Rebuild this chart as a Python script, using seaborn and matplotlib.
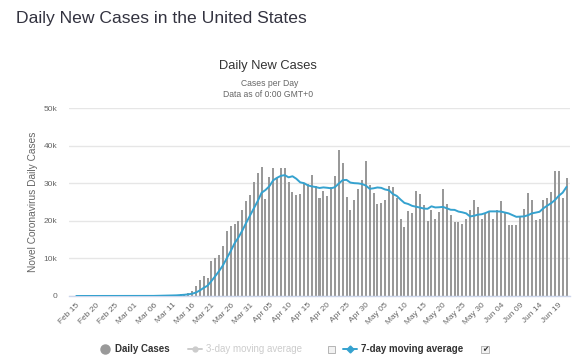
import matplotlib
matplotlib.use("Agg")
import matplotlib.pyplot as plt
from matplotlib.lines import Line2D
from matplotlib.patches import Rectangle
import numpy as np
import pandas as pd
import seaborn as sns

# Daily new cases, one value per day starting Feb 15
daily_cases = [
    0, 0, 0, 0, 0, 0, 1, 0, 0, 18, 0, 1, 0, 3, 8,
    8, 23, 20, 31, 68, 45, 140, 116, 65, 376, 322, 382, 520, 650, 800,
    1200, 2600, 4200, 5200, 4700, 9200, 10000, 10800, 13200, 17300,
    18600, 19200, 20000, 22900, 25200, 26800, 30300, 32800, 34400, 25800,
    31600, 34000, 31500, 34000, 34000, 30400, 27800, 26900, 27300, 30000,
    29800, 32200, 29200, 26000, 28000, 26600, 29000, 31900, 39000, 35500,
    26500, 23000, 25500, 28600, 30800, 36000, 29700, 27400, 24600, 24800,
    25500, 29400, 29000, 26000, 20500, 18400, 22700, 22100, 27900, 27300,
    24200, 20000, 23000, 20600, 22500, 28600, 24500, 21600, 19800, 19800,
    19200, 20600, 22800, 25700, 23700, 20600, 22100, 22300, 20600, 22800,
    25300, 22100, 18800, 19000, 19000, 21000, 23300, 27400, 25500, 20200,
    20600, 25500, 26000, 27800, 33400, 33400, 26000, 31400,
]

# 7-day moving average line
avg_7day = [
    0, 0, 0, 0, 0, 0, 0, 0, 0, 0, 0, 0, 0, 0, 1, 2, 5, 8, 12, 22,
    28, 47, 63, 70, 113, 150, 180, 250, 330, 445,
    610, 930, 1480, 2170, 2760, 3990, 5300, 6670, 8190, 10060,
    11970, 14040, 15590, 17430, 19490, 21430, 23340, 25310, 27500, 28230,
    29230, 30810, 31490, 32010, 32190, 31610, 31900, 31230, 30270, 30060,
    29460, 29200, 29030, 28770, 28930, 28830, 28690, 28990, 29960, 30860,
    30930, 30210, 30060, 30000, 29840, 29410, 28560, 28690, 28910, 28810,
    28370, 28170, 27170, 26670, 25690, 24800, 24500, 24010, 23800, 23560,
    23300, 23230, 23890, 23590, 23640, 23740, 23340, 22970, 22940, 22490,
    22290, 22010, 21190, 21360, 21660, 21770, 22100, 22540, 22540, 22540,
    22490, 22260, 22000, 21560, 21090, 21140, 21210, 21510, 22000, 22200,
    22430, 23360, 24070, 24710, 25570, 26700, 27530, 29070,
]

start_date = "2020-02-15"
y_ticks = [0, 10000, 20000, 30000, 40000, 50000]
y_tick_labels = ["0", "10k", "20k", "30k", "40k", "50k"]

sns.set_style("white")
plt.rcParams["font.family"] = ["Liberation Sans", "DejaVu Sans"]

W, H = 581, 362


def fx(x):
    return x / W


def fy(y):
    return 1 - y / H


dates = pd.date_range(start_date, periods=len(daily_cases))
df = pd.DataFrame({
    "date": dates.strftime("%b %d"),
    "cases": daily_cases,
    "avg": avg_7day,
    "idx": np.arange(len(daily_cases)),
})

fig = plt.figure(figsize=(W / 100, H / 100), dpi=100)
ax = fig.add_axes([fx(69), fy(296), fx(570) - fx(69), fy(108.3) - fy(296)])

line_color = "#35a2cf"
sns.barplot(data=df, x="date", y="cases", color="#999999", saturation=1,
            width=0.52, ax=ax, zorder=2, linewidth=0)
# crisp 2px bars like the original
for bar in ax.patches:
    bar.set_antialiased(False)
sns.lineplot(data=df, x="idx", y="avg", color=line_color, lw=1.4, ax=ax, zorder=3)

ax.set_xlim(-1.9, 127.9)
ax.set_ylim(0, 50000)
ax.set_yticks(y_ticks)
ax.set_yticklabels(y_tick_labels)
ax.yaxis.grid(True, color="#e6e6e6", lw=1)
ax.xaxis.grid(False)
ax.set_axisbelow(True)

tick_pos = list(range(0, len(daily_cases), 5))
ax.set_xticks(tick_pos)
ax.set_xticklabels([df["date"][i] for i in tick_pos], rotation=45, ha="right",
                   rotation_mode="anchor", fontsize=6, color="#666666")
ax.tick_params(axis="x", length=0, pad=4)
ax.tick_params(axis="y", length=0, pad=8.5, labelsize=6, labelcolor="#666666")
ax.set_xlabel("")
ax.set_ylabel("")

for side in ["top", "right", "left"]:
    ax.spines[side].set_visible(False)
ax.spines["bottom"].set_color("#ccd6eb")
ax.spines["bottom"].set_linewidth(1)

# titles
fig.text(fx(16), fy(22.7), "Daily New Cases in the United States", fontsize=12.6,
         color="#333340", va="baseline", ha="left")
fig.text(fx(268), fy(69), "Daily New Cases", fontsize=9.3, color="#333333",
         va="baseline", ha="center")
fig.text(fx(270), fy(85.5), "Cases per Day", fontsize=6.2, color="#666666",
         va="baseline", ha="center")
fig.text(fx(268), fy(96.7), "Data as of 0:00 GMT+0", fontsize=6.2, color="#666666",
         va="baseline", ha="center")
fig.text(fx(33), fy(202), "Novel Coronavirus Daily Cases", fontsize=7.3,
         color="#666666", rotation=90, ha="center", va="center")

# legend
ly = 349
fig.add_artist(Line2D([fx(105)], [fy(ly)], marker="o", markersize=6.5,
                      color="#999999", transform=fig.transFigure))
fig.text(fx(115), fy(ly), "Daily Cases", fontsize=7, fontweight="bold",
         color="#333333", va="center", ha="left")

fig.add_artist(Line2D([fx(188), fx(202)], [fy(ly), fy(ly)], color="#cccccc", lw=1.4,
                      transform=fig.transFigure))
fig.add_artist(Line2D([fx(195)], [fy(ly)], marker="o", markersize=3.5,
                      color="#cccccc", transform=fig.transFigure))
fig.text(fx(206), fy(ly), "3-day moving average", fontsize=7, color="#cccccc",
         va="center", ha="left")
fig.add_artist(Rectangle((fx(327.7), fy(353.3)), fx(7.6), fy(0) - fy(7.6),
                         facecolor="#f2f2f2", edgecolor="#aaaaaa", lw=0.6,
                         transform=fig.transFigure))

fig.add_artist(Line2D([fx(343), fx(357)], [fy(ly), fy(ly)], color=line_color, lw=1.4,
                      transform=fig.transFigure))
fig.add_artist(Line2D([fx(350)], [fy(ly)], marker="D", markersize=3.5,
                      color=line_color, transform=fig.transFigure))
fig.text(fx(361), fy(ly), "7-day moving average", fontsize=7, fontweight="bold",
         color="#333333", va="center", ha="left")
fig.add_artist(Rectangle((fx(481), fy(353.3)), fx(7.6), fy(0) - fy(7.6),
                         facecolor="#f2f2f2", edgecolor="#aaaaaa", lw=0.6,
                         transform=fig.transFigure))
fig.text(fx(484.8), fy(349.5), "\u2714", fontsize=5.5, color="#333333",
         ha="center", va="center", family="DejaVu Sans")

fig.savefig("out.png", dpi=100)
